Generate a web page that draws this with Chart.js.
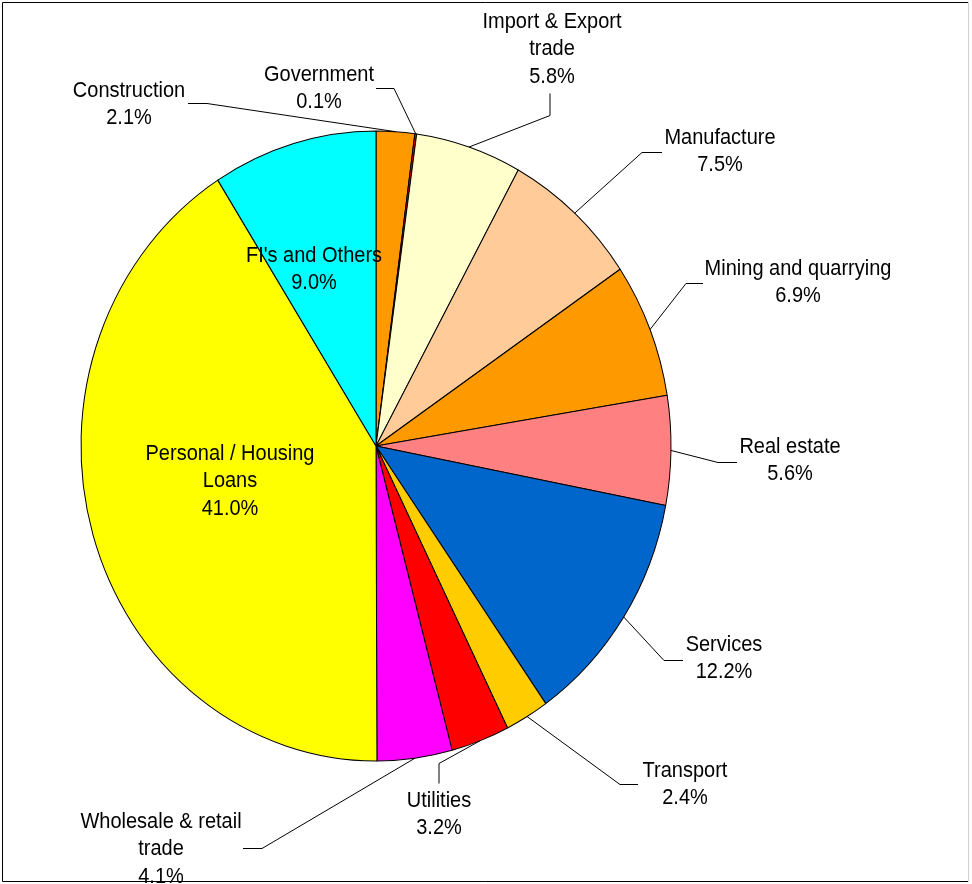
<!DOCTYPE html>
<html>
<head>
<meta charset="utf-8">
<title>Loans by sector</title>
<script src="https://cdn.jsdelivr.net/npm/chart.js@4.4.0/dist/chart.umd.min.js"></script>
<style>
  html, body { margin: 0; padding: 0; background: #fff; }
  #wrap { width: 972px; height: 884px; }
</style>
</head>
<body>
<div id="wrap"><canvas id="piechart" width="972" height="884"></canvas></div>
<script>
// sectors, clockwise from 12 o'clock
const sectors = [
    ['Construction'],
    ['Government'],
    ['Import & Export', 'trade'],
    ['Manufacture'],
    ['Mining and quarrying'],
    ['Real estate'],
    ['Services'],
    ['Transport'],
    ['Utilities'],
    ['Wholesale & retail', 'trade'],
    ['Personal / Housing', 'Loans'],
    ["FI's and Others"]
];
const shares = [2.1, 0.1, 5.8, 7.5, 6.9, 5.6, 12.2, 2.4, 3.2, 4.1, 41.0, 9.0];
const colors = [
    '#FF9900', '#FF0000', '#FFFFCC', '#FFCC99', '#FF9900', '#FF8080',
    '#0066CC', '#FFCC00', '#FF0000', '#FF00FF', '#FFFF00', '#00FFFF'
];

// where each label sits (centre of first text line) and its leader elbow
const labelSpots = [
    { x: 129, y: 91, tail: [188, 103], elbow: [207, 103] },
    { x: 319, y: 75, tail: [376, 88], elbow: [394, 88] },
    { x: 552, y: 22, tail: [550, 93], elbow: [550, 115] },
    { x: 720, y: 138, tail: [662, 152], elbow: [642, 152] },
    { x: 798, y: 269, tail: [703, 283], elbow: [686, 283] },
    { x: 790, y: 447, tail: [737, 462], elbow: [718, 462] },
    { x: 724, y: 645, tail: [683, 660], elbow: [664, 660] },
    { x: 685, y: 771, tail: [638, 784], elbow: [620, 784] },
    { x: 439, y: 801, tail: [439, 783], elbow: [439, 763] },
    { x: 161, y: 822, tail: [243, 848], elbow: [262, 848] },
    { x: 230, y: 454 },
    { x: 314, y: 256 }
];

const radius = 295;
const stretch = 315 / 295; // pie and text are drawn slightly taller than wide
const lineHeight = 27.5;

const ovalPie = {
    id: 'ovalPie',
    beforeDatasetsDraw(chart) {
        const arc = chart.getDatasetMeta(0).data[0];
        const ctx = chart.ctx;
        ctx.save();
        ctx.translate(arc.x, arc.y);
        ctx.scale(1, stretch);
        ctx.translate(-arc.x, -arc.y);
    },
    afterDatasetsDraw(chart) {
        chart.ctx.restore();
    }
};

const sectorLabels = {
    id: 'sectorLabels',
    afterDraw(chart) {
        const ctx = chart.ctx;
        const arcs = chart.getDatasetMeta(0).data;
        ctx.save();
        ctx.strokeStyle = '#000';
        ctx.lineWidth = 1;
        arcs.forEach((arc, i) => {
            const spot = labelSpots[i];
            if (spot.tail) {
                const mid = (arc.startAngle + arc.endAngle) / 2;
                const px = arc.x + arc.outerRadius * Math.cos(mid);
                const py = arc.y + stretch * arc.outerRadius * Math.sin(mid);
                ctx.beginPath();
                ctx.moveTo(spot.tail[0], spot.tail[1] + 0.5);
                ctx.lineTo(spot.elbow[0], spot.elbow[1] + 0.5);
                ctx.lineTo(px, py);
                ctx.stroke();
            }
            const lines = sectors[i].concat(shares[i].toFixed(1) + '%');
            ctx.fillStyle = '#000';
            ctx.font = '20px "Liberation Sans", Arial, sans-serif';
            ctx.textAlign = 'center';
            ctx.textBaseline = 'middle';
            lines.forEach((text, n) => {
                ctx.save();
                ctx.translate(spot.x, spot.y + n * lineHeight);
                ctx.scale(1, stretch);
                ctx.fillText(text, 0, 0);
                ctx.restore();
            });
        });

        // chart frame
        ctx.beginPath();
        ctx.strokeStyle = '#000';
        ctx.moveTo(968, 2.5);
        ctx.lineTo(2.5, 2.5);
        ctx.lineTo(2.5, 881.5);
        ctx.lineTo(968, 881.5);
        ctx.stroke();
        ctx.beginPath();
        ctx.strokeStyle = '#d0d0d0';
        ctx.moveTo(968.5, 2);
        ctx.lineTo(968.5, 882);
        ctx.stroke();
        ctx.restore();
    }
};

new Chart(document.getElementById('piechart'), {
    type: 'pie',
    data: {
        labels: sectors.map((s) => s.join(' ')),
        datasets: [
            {
                data: shares,
                backgroundColor: colors,
                borderColor: '#000',
                borderWidth: 1
            }
        ]
    },
    options: {
        responsive: false,
        animation: false,
        radius: radius,
        layout: {
            padding: { left: 81, right: 301, top: 151, bottom: 143 }
        },
        plugins: {
            legend: { display: false },
            tooltip: { enabled: false }
        }
    },
    plugins: [ovalPie, sectorLabels]
});
</script>
</body>
</html>
